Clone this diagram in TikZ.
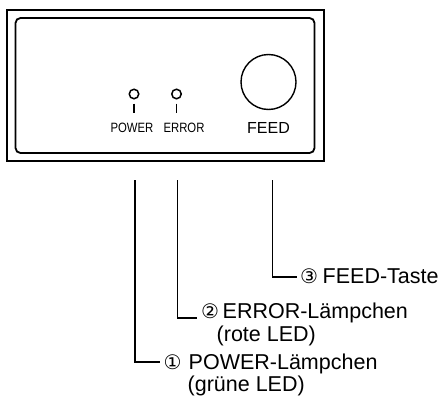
\documentclass[tikz,border=0pt]{standalone}
\usepackage{fontspec}
\setmainfont{Liberation Sans}
\newfontfamily\circfont{DejaVu Sans}
\begin{document}
\begin{tikzpicture}[x=1pt,y=-1pt,
  frame/.style={draw, line width=2.2pt},
  panel/.style={draw, line width=1.8pt, rounded corners=5pt},
  ledring/.style={draw, circle, line width=1.5pt, minimum size=9.5pt, inner sep=0pt},
  feedbtn/.style={draw, circle, line width=1.4pt, minimum size=55pt, inner sep=0pt},
  stem/.style={line width=1.4pt},
  leader/.style={line width=1.1pt},
  smalllbl/.style={font=\fontsize{13.5}{13.5}\selectfont, anchor=base, inner sep=0pt},
  feedlbl/.style={font=\fontsize{16}{16}\selectfont, anchor=base, inner sep=0pt},
  lbl/.style={font=\fontsize{21.5}{22}\selectfont, anchor=base west, inner sep=0pt},
  num/.style={font=\circfont\fontsize{20}{20}\selectfont, anchor=center, inner sep=0pt}
]
\useasboundingbox (0,0) rectangle (444,396);
% housing
\draw[frame] (7,10) rectangle (324,161);
\draw[panel] (15.5,18) rectangle (314.5,153);
% LEDs
\node[ledring] (pled) at (134,94) {};
\node[ledring] (eled) at (176.5,94) {};
\coordinate (pstem) at (134,113);
\coordinate (estem) at (176.5,113);
\draw[stem] ([yshift=-4pt]pled.south) -- (pstem);
\draw[stem] ([yshift=-4pt]eled.south) -- (estem);
\node[smalllbl] (plbl) at (132,132) {\scalebox{0.84}[1]{POWER}};
\node[smalllbl] (elbl) at (184,132) {\scalebox{0.84}[1]{ERROR}};
% FEED button
\node[feedbtn] (btn) at (268.5,82) {};
\node[feedlbl] (flbl) at (268.5,133) {FEED};
% callouts
\coordinate (ptop) at (135,180);
\coordinate (etop) at (177.5,180);
\coordinate (ftop) at (272.5,180);
\coordinate (pcorner) at (135,362);
\coordinate (ecorner) at (177.5,318);
\coordinate (fcorner) at (272.5,277);
\coordinate (pend) at (160,362);
\coordinate (eend) at (197,318);
\coordinate (fend) at (297,277);
\draw[leader] (ptop) -- (pcorner) -- (pend);
\draw[leader] (etop) -- (ecorner) -- (eend);
\draw[leader] (ftop) -- (fcorner) -- (fend);
\node[num] (n3) at (309,276) {③};
\node[lbl] (t3) at (322.5,283) {FEED-Taste};
\node[num] (n2) at (210,311) {②};
\node[lbl] (t2) at (222.5,318) {ERROR-Lämpchen};
\node[lbl] (t2b) at (216.5,341) {(rote LED)};
\node[num] (n1) at (172.5,362) {①};
\node[lbl] (t1) at (188.5,369) {POWER-Lämpchen};
\node[lbl] (t1b) at (187.5,391) {(grüne LED)};
\end{tikzpicture}
\end{document}
